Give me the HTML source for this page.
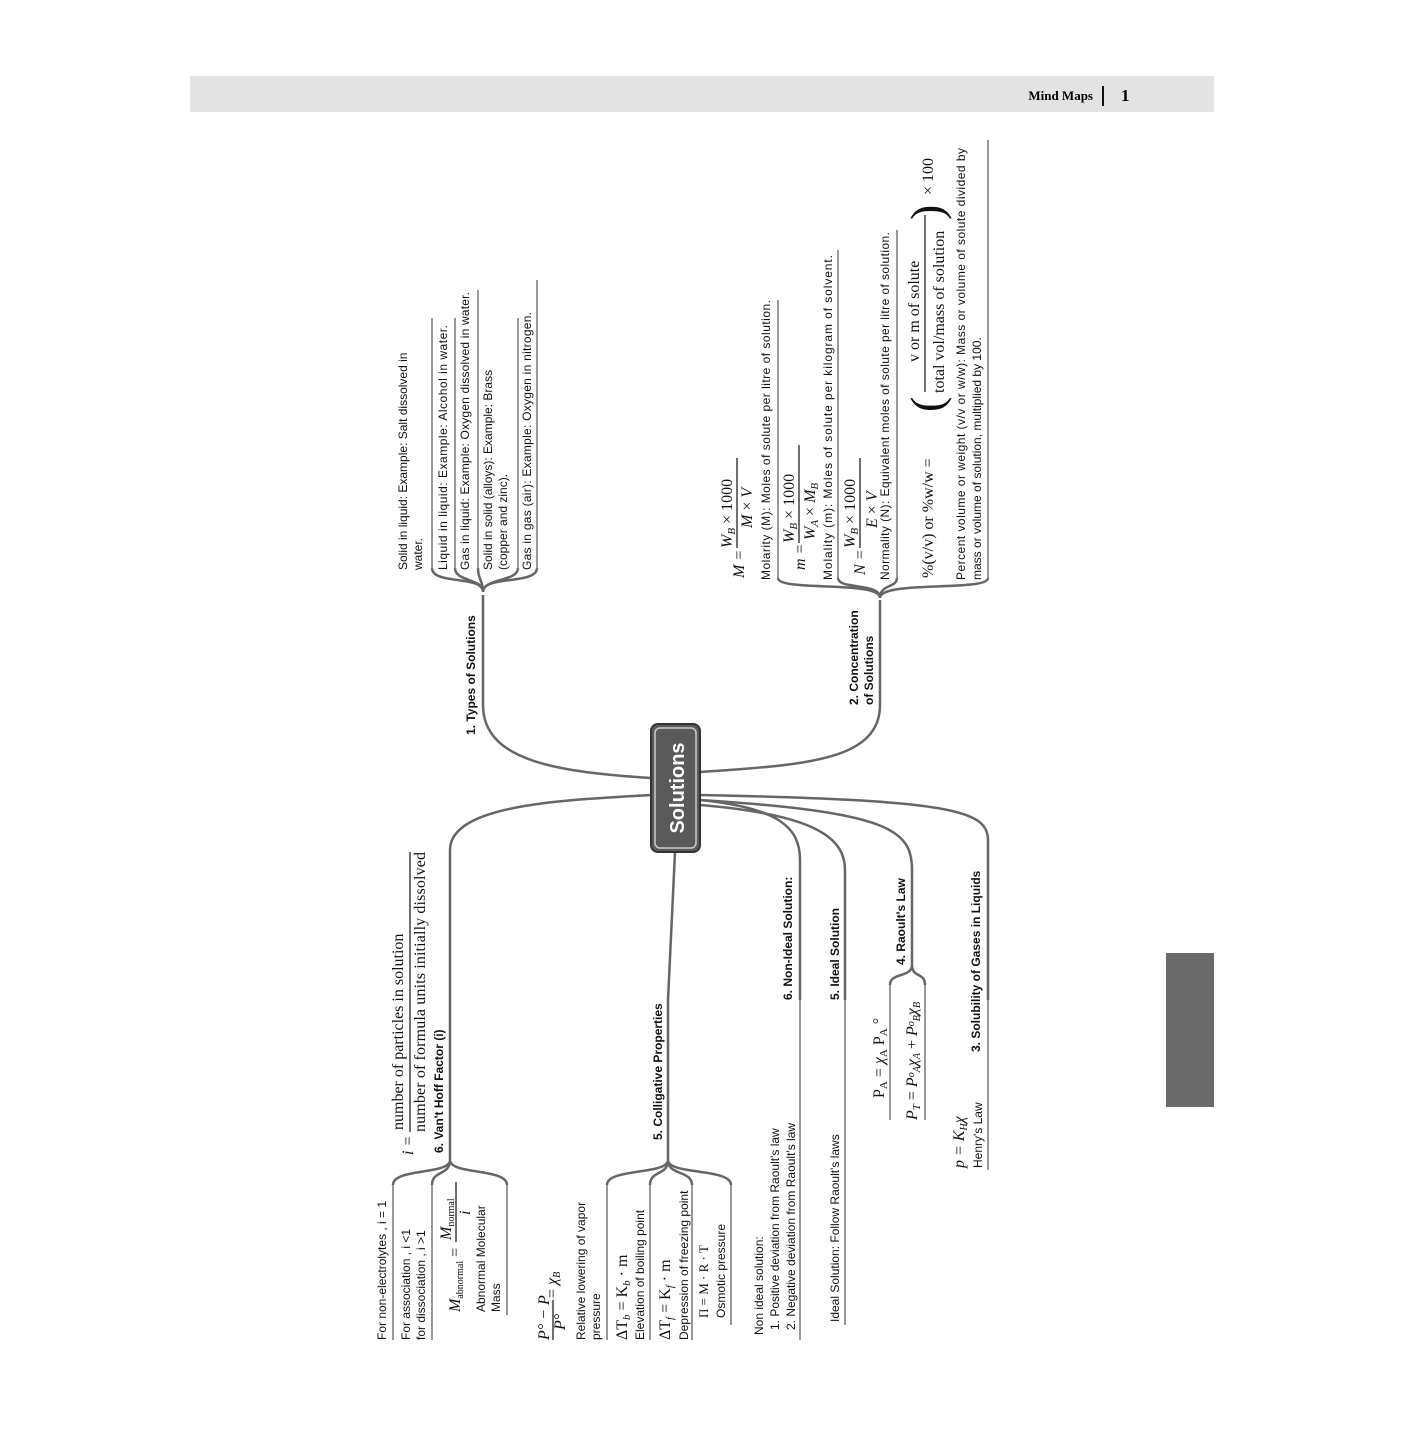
<!DOCTYPE html>
<html><head><meta charset="utf-8"><style>
html,body{margin:0;padding:0;background:#fff}
svg{display:block}
.s{font-family:"Liberation Sans",sans-serif;font-size:12px;fill:#111}
.b{font-family:"Liberation Sans",sans-serif;font-size:12px;font-weight:bold;fill:#111}
.m{font-family:"Liberation Serif",serif;font-size:16px;fill:#111}
.mi{font-family:"Liberation Serif",serif;font-size:16px;font-style:italic;fill:#111}
.c{fill:none;stroke:#666;stroke-width:2.5}
.l{fill:none;stroke:#777;stroke-width:1.5}
</style></head><body>
<svg width="1404" height="1440" viewBox="0 0 1404 1440">
<rect x="190" y="76" width="1024" height="36" fill="#e3e3e3"/>
<text x="1093" y="100" text-anchor="end" style="font-family:'Liberation Serif',serif;font-weight:bold;font-size:13px">Mind Maps</text>
<rect x="1102" y="86" width="2" height="20" fill="#111"/>
<text x="1121" y="101" style="font-family:'Liberation Serif',serif;font-weight:bold;font-size:17px">1</text>
<rect x="1166" y="953" width="48" height="154" fill="#6a6a6a"/>

<!-- connectors -->
<path class="c" d="M651,778 C560,772 483,762 483,705 L483,595"/>
<path class="c" d="M483,592 C483,575 432,585 432,568 M483,592 C483,578 455,582 455,568 M483,592 C483,580 478,580 478,568 M483,592 C483,578 518,582 518,568 M483,592 C483,575 537,585 537,568"/>
<path class="c" d="M700,772 C800,765 880,762 880,705 L880,600"/>
<path class="c" d="M880,598 C880,580 778,592 778,578 M880,598 C880,582 838,590 838,578 M880,598 C880,584 897,588 897,578 M880,598 C880,580 988,592 988,578"/>
<path class="c" d="M651,795 C560,800 450,805 450,850 L450,1160"/>
<path class="c" d="M450,1160 C450,1175 393,1168 393,1185 M450,1160 C450,1176 432,1170 432,1185 M450,1160 C450,1175 507,1168 507,1185"/>
<path class="c" d="M675,852 L668,1000 L668,1160"/>
<path class="c" d="M668,1160 C668,1175 607,1168 607,1185 M668,1160 C668,1176 650,1170 650,1185 M668,1160 C668,1176 692,1170 692,1185 M668,1160 C668,1175 731,1168 731,1185"/>
<path class="c" d="M700,800 C780,808 800,828 800,860 L800,1000"/>
<path class="c" d="M700,805 C820,815 845,840 845,870 L845,1000"/>
<path class="c" d="M700,800 C890,812 912,830 912,870 L912,965 C912,978 890,972 890,985 M912,965 C912,978 925,972 925,985"/>
<path class="c" d="M700,795 C950,800 988,810 988,840 L988,1000"/>

<!-- separator lines -->
<path class="l" d="M432,570 V318 M455,570 V318 M478,570 V290 M518,570 V318 M537,570 V280"/>
<path class="l" d="M778,580 V300 M838,580 V250 M897,580 V230 M988,580 V140"/>
<path class="l" d="M393,1185 V1340 M432,1185 V1340 M507,1185 V1315"/>
<path class="l" d="M607,1185 V1340 M650,1185 V1340 M692,1185 V1340 M731,1185 V1325"/>
<path class="l" d="M800,1000 V1340 M845,1000 V1325 M890,985 V1120 M925,985 V1120 M988,1000 V1170"/>
<line x1="553" y1="1340" x2="553" y2="1300" stroke="#111" stroke-width="1.2"/>

<!-- node -->
<rect x="651" y="724" width="49" height="128" rx="7" fill="#5a5a5a" stroke="#333" stroke-width="2"/>
<rect x="655" y="728" width="41" height="120" rx="5" fill="none" stroke="#ccc" stroke-width="1.5"/>
<text transform="translate(684,788) rotate(-90)" text-anchor="middle" style="font-family:'Liberation Sans',sans-serif;font-weight:bold;font-size:20px;fill:#fff">Solutions</text>

<g>
<text class="b" transform="translate(475,735) rotate(-90)">1. Types of Solutions</text>
<text class="s" transform="translate(407,570) rotate(-90)">Solid in liquid: Example: Salt dissolved in</text>
<text class="s" transform="translate(422,570) rotate(-90)">water.</text>
<text class="s" transform="translate(447,570) rotate(-90)" textLength="245">Liquid in liquid: Example: Alcohol in water.</text>
<text class="s" transform="translate(469,570) rotate(-90)" textLength="278">Gas in liquid: Example: Oxygen dissolved in water.</text>
<text class="s" transform="translate(492,570) rotate(-90)">Solid in solid (alloys): Example: Brass</text>
<text class="s" transform="translate(507,570) rotate(-90)">(copper and zinc).</text>
<text class="s" transform="translate(531,570) rotate(-90)" textLength="258">Gas in gas (air): Example: Oxygen in nitrogen.</text>

<text class="b" transform="translate(858,705) rotate(-90)">2. Concentration</text>
<text class="b" transform="translate(873,705) rotate(-90)">of Solutions</text>

<text class="mi" transform="translate(744,578) rotate(-90)">M =</text>
<text class="mi" transform="translate(732,548) rotate(-90)">W<tspan font-size="11" dy="3">B</tspan><tspan dy="-3" font-style="normal"> × 1000</tspan></text>
<line x1="737" y1="548" x2="737" y2="458" stroke="#111" stroke-width="1.2"/>
<text class="mi" transform="translate(752,528) rotate(-90)">M <tspan font-style="normal">×</tspan> V</text>
<text class="s" transform="translate(770,580) rotate(-90)" textLength="280">Molarity (M): Moles of solute per litre of solution.</text>
<text class="mi" transform="translate(805,570) rotate(-90)">m =</text>
<text class="mi" transform="translate(794,543) rotate(-90)">W<tspan font-size="11" dy="3">B</tspan><tspan dy="-3" font-style="normal"> × 1000</tspan></text>
<line x1="799" y1="543" x2="799" y2="445" stroke="#111" stroke-width="1.2"/>
<text class="mi" transform="translate(815,540) rotate(-90)">W<tspan font-size="11" dy="3">A</tspan><tspan dy="-3" font-style="normal"> × </tspan>M<tspan font-size="11" dy="3">B</tspan></text>
<text class="s" transform="translate(832,580) rotate(-90)" textLength="325">Molality (m): Moles of solute per kilogram of solvent.</text>
<text class="mi" transform="translate(865,575) rotate(-90)">N =</text>
<text class="mi" transform="translate(855,548) rotate(-90)">W<tspan font-size="11" dy="3">B</tspan><tspan dy="-3" font-style="normal"> × 1000</tspan></text>
<line x1="860" y1="548" x2="860" y2="458" stroke="#111" stroke-width="1.2"/>
<text class="mi" transform="translate(877,528) rotate(-90)">E <tspan font-style="normal">×</tspan> V</text>
<text class="s" transform="translate(889,580) rotate(-90)" textLength="348">Normality (N): Equivalent moles of solute per litre of solution.</text>
<text class="m" transform="translate(933,578) rotate(-90)">%(v/v) or %w/w =</text>
<text transform="translate(942,412) rotate(-90)" style="font-family:'Liberation Serif',serif;font-size:46px;fill:#111">(</text>
<text class="m" transform="translate(919,362) rotate(-90)">v or m of solute</text>
<line x1="925" y1="392" x2="925" y2="215" stroke="#111" stroke-width="1.2"/>
<text class="m" transform="translate(944,393) rotate(-90)">total vol/mass of solution</text>
<text transform="translate(942,220) rotate(-90)" style="font-family:'Liberation Serif',serif;font-size:46px;fill:#111">)</text>
<text class="m" transform="translate(933,195) rotate(-90)">× 100</text>
<text class="s" transform="translate(965,580) rotate(-90)" textLength="432">Percent  volume or weight (v/v or w/w): Mass or volume of solute divided by</text>
<text class="s" transform="translate(981,580) rotate(-90)">mass or volume of solution, multiplied by 100.</text>

<text class="b" transform="translate(443,1153) rotate(-90)">6. Van't Hoff Factor (i)</text>
<text class="mi" transform="translate(413,1155) rotate(-90)">i =</text>
<text class="m" transform="translate(403,1130) rotate(-90)">number of particles in solution</text>
<line x1="410" y1="1132" x2="410" y2="852" stroke="#111" stroke-width="1.2"/>
<text class="m" transform="translate(425,1132) rotate(-90)" textLength="280">number of formula units initially dissolved</text>
<text class="s" transform="translate(386,1340) rotate(-90)">For non-electrolytes , i = 1</text>
<text class="s" transform="translate(410,1340) rotate(-90)">For association , i &lt;1</text>
<text class="s" transform="translate(425,1340) rotate(-90)">for dissociation , i &gt;1</text>
<text class="mi" transform="translate(460,1312) rotate(-90)">M<tspan font-size="10" dy="3" font-style="normal">abnormal</tspan><tspan dy="-3" font-style="normal"> =</tspan></text>
<text class="mi" transform="translate(451,1240) rotate(-90)">M<tspan font-size="10" dy="3" font-style="normal">normal</tspan></text>
<line x1="456" y1="1242" x2="456" y2="1182" stroke="#111" stroke-width="1.2"/>
<text class="mi" transform="translate(470,1215) rotate(-90)">i</text>
<text class="s" transform="translate(485,1312) rotate(-90)">Abnormal Molecular</text>
<text class="s" transform="translate(500,1312) rotate(-90)">Mass</text>

<text class="b" transform="translate(662,1140) rotate(-90)">5. Colligative Properties</text>
<text class="mi" transform="translate(549,1340) rotate(-90)">P° − P</text>
<text class="mi" transform="translate(565,1330) rotate(-90)">P°</text>
<text class="m" transform="translate(557,1298) rotate(-90)">= <tspan font-style="italic">χ</tspan><tspan font-size="10" font-style="italic" dy="3">B</tspan></text>
<text class="s" transform="translate(585,1340) rotate(-90)">Relative lowering of vapor</text>
<text class="s" transform="translate(600,1340) rotate(-90)">pressure</text>
<text class="m" transform="translate(627,1340) rotate(-90)">ΔT<tspan font-size="11" dy="3" font-style="italic">b</tspan><tspan dy="-3"> = K</tspan><tspan font-size="11" dy="3" font-style="italic">b</tspan><tspan dy="-3"> · m</tspan></text>
<text class="s" transform="translate(644,1340) rotate(-90)">Elevation of boiling point</text>
<text class="m" transform="translate(670,1340) rotate(-90)">ΔT<tspan font-size="11" dy="3" font-style="italic">f</tspan><tspan dy="-3"> = K</tspan><tspan font-size="11" dy="3" font-style="italic">f</tspan><tspan dy="-3"> · m</tspan></text>
<text class="s" transform="translate(688,1340) rotate(-90)">Depression of freezing point</text>
<text class="m" transform="translate(708,1318) rotate(-90)" style="font-size:13px">Π = M · R · T</text>
<text class="s" transform="translate(725,1318) rotate(-90)">Osmotic pressure</text>

<text class="b" transform="translate(792,1000) rotate(-90)">6. Non-Ideal Solution:</text>
<text class="s" transform="translate(763,1335) rotate(-90)">Non ideal solution:</text>
<text class="s" transform="translate(779,1330) rotate(-90)">1. Positive deviation from Raoult's law</text>
<text class="s" transform="translate(795,1330) rotate(-90)">2. Negative deviation from Raoult's law</text>

<text class="b" transform="translate(839,1000) rotate(-90)">5. Ideal Solution</text>
<text class="s" transform="translate(839,1322) rotate(-90)">Ideal Solution: Follow Raoult's laws</text>

<text class="b" transform="translate(905,965) rotate(-90)">4. Raoult's Law</text>
<text class="m" transform="translate(884,1098) rotate(-90)">P<tspan font-size="11" dy="3">A</tspan><tspan dy="-3"> = </tspan><tspan font-style="italic">χ</tspan><tspan font-size="11" dy="3">A</tspan><tspan dy="-3"> P</tspan><tspan font-size="11" dy="3">A</tspan><tspan dy="-3"> °</tspan></text>
<text class="mi" transform="translate(917,1120) rotate(-90)">P<tspan font-size="11" dy="3">T</tspan><tspan dy="-3" font-style="normal"> = </tspan>P<tspan font-size="10" dy="-3">o</tspan><tspan font-size="10" dy="6">A</tspan><tspan dy="-3">χ</tspan><tspan font-size="10" dy="3">A</tspan><tspan dy="-3" font-style="normal"> + </tspan>P<tspan font-size="10" dy="-3">o</tspan><tspan font-size="10" dy="6">B</tspan><tspan dy="-3">χ</tspan><tspan font-size="10" dy="3">B</tspan></text>

<text class="b" transform="translate(980,1052) rotate(-90)">3. Solubility of Gases in Liquids</text>
<text class="mi" transform="translate(964,1168) rotate(-90)">p = K<tspan font-size="10" dy="3">H</tspan><tspan dy="-3">χ</tspan></text>
<text class="s" transform="translate(982,1168) rotate(-90)">Henry's Law</text>
</g>
</svg>
</body></html>
